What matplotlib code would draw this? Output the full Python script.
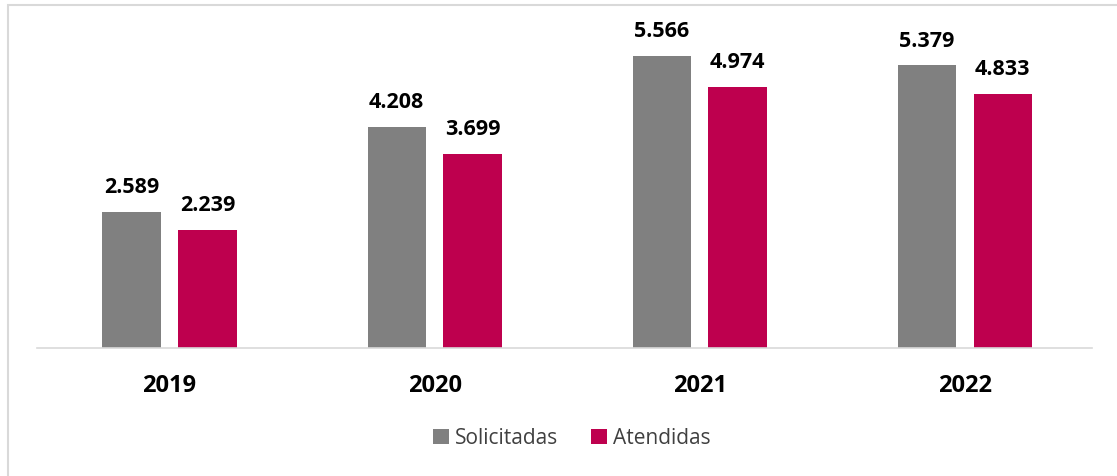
import numpy as np
import matplotlib.pyplot as plt
from matplotlib.patches import Rectangle

# data
years = ['2019', '2020', '2021', '2022']
solicitadas = [2589, 4208, 5566, 5379]
atendidas = [2239, 3699, 4974, 4833]

gray = '#808080'
crimson = '#BE004E'

plt.rcParams['font.family'] = ['Open Sans', 'DejaVu Sans']

fig = plt.figure(figsize=(11.17, 4.76), dpi=100)
ax = fig.add_axes([37 / 1117, 1 - 348 / 476, 1055 / 1117, 331 / 476])

x = np.arange(len(years))
w = 0.22
b1 = ax.bar(x - 0.143, solicitadas, w, color=gray, label='Solicitadas')
b2 = ax.bar(x + 0.143, atendidas, w, color=crimson, label='Atendidas')

def fmt(v):
    return f'{v:,}'.replace(',', '.')

for bars in (b1, b2):
    for r in bars:
        ax.annotate(fmt(int(r.get_height())),
                    (r.get_x() + r.get_width() / 2, r.get_height()),
                    xytext=(0, 10), textcoords='offset points',
                    ha='center', va='bottom', fontsize=15.5, fontweight='bold')

ax.set_xlim(-0.5, 3.48)
ax.set_ylim(0, 6300)
ax.set_xticks(x)
ax.set_xticklabels(years, fontsize=17, fontweight='bold')
ax.tick_params(axis='x', length=0, pad=19)
ax.set_yticks([])
for s in ['top', 'right', 'left']:
    ax.spines[s].set_visible(False)
ax.spines['bottom'].set_color('#D9D9D9')
ax.spines['bottom'].set_linewidth(1.2)

fig.legend(loc='center', bbox_to_anchor=(572 / 1117, 1 - 438 / 476), ncol=2,
           frameon=False, fontsize=15, handlelength=0.75, handleheight=0.75,
           handletextpad=0.3, columnspacing=1.6, labelcolor='#404040')

# outer frame (left and top edges visible)
fig.patches.append(Rectangle((7.5 / 1117, -0.1), 1.2, 1 - 4.5 / 476 + 0.1,
                             transform=fig.transFigure, fill=False,
                             edgecolor='#D9D9D9', linewidth=1.5))

fig.savefig('out.png', dpi=100)
